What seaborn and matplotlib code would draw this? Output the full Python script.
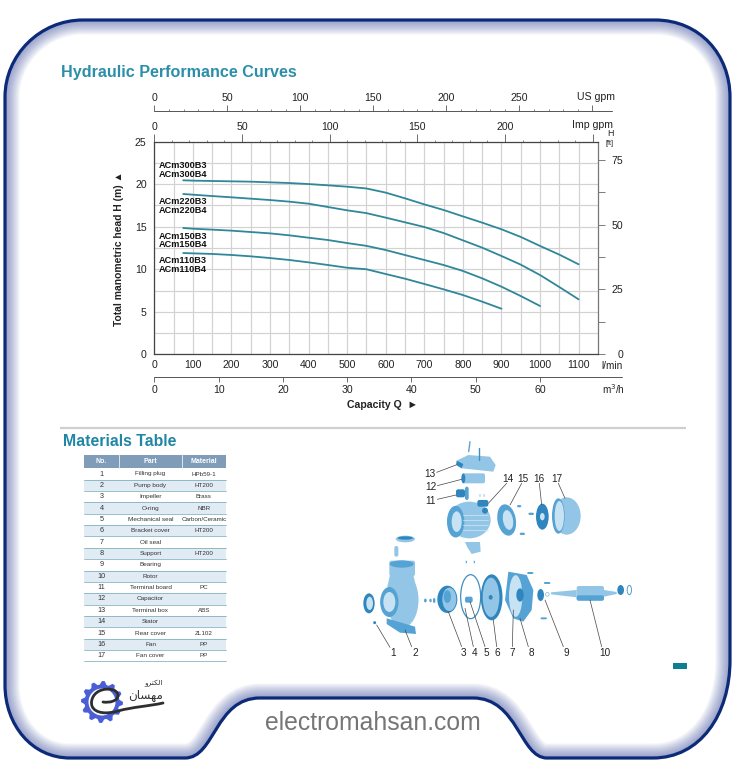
import numpy as np
import pandas as pd
import matplotlib
matplotlib.use("Agg")
import matplotlib.pyplot as plt
import seaborn as sns
from matplotlib.path import Path
from matplotlib.patches import PathPatch, Rectangle, Ellipse, Polygon, Circle, FancyBboxPatch

# ---------- data ----------
Q_300 = [75, 100, 150, 200, 250, 300, 350, 400, 450, 500, 550, 600, 650, 700, 750, 800, 850, 900, 950, 1000, 1050, 1100]
H_300 = [20.46, 20.42, 20.38, 20.34, 20.30, 20.22, 20.14, 20.02, 19.87, 19.71, 19.50, 19.01, 18.34, 17.63, 16.97,
         16.22, 15.48, 14.70, 13.80, 12.74, 11.72, 10.58]
Q_220 = [75, 100, 150, 200, 250, 300, 350, 400, 450, 500, 550, 600, 650, 700, 750, 800, 850, 900, 950, 1000, 1050, 1100]
H_220 = [18.85, 18.77, 18.61, 18.46, 18.30, 18.14, 17.95, 17.71, 17.32, 16.93, 16.60, 16.07, 15.52, 14.97, 14.26,
         13.40, 12.54, 11.56, 10.54, 9.32, 7.91, 6.46]
Q_150 = [75, 100, 150, 200, 250, 300, 350, 400, 450, 500, 550, 600, 650, 700, 750, 800, 850, 900, 950, 1000]
H_150 = [14.85, 14.77, 14.66, 14.54, 14.38, 14.22, 13.99, 13.71, 13.44, 13.08, 12.75, 12.26, 11.67, 11.09, 10.50,
         9.80, 8.93, 7.95, 6.85, 5.68]
Q_110 = [75, 100, 150, 200, 250, 300, 350, 400, 450, 500, 550, 600, 650, 700, 750, 800, 850, 900]
H_110 = [11.91, 11.87, 11.80, 11.68, 11.52, 11.32, 11.09, 10.81, 10.50, 10.18, 10.00, 9.44, 8.89, 8.27, 7.64,
         6.97, 6.19, 5.36]
CURVE_LABELS = ["ACm300B3", "ACm300B4", "ACm220B3", "ACm220B4",
                "ACm150B3", "ACm150B4", "ACm110B3", "ACm110B4"]
CURVE_LABEL_H = [22.18, 21.17, 17.99, 16.93, 13.9, 12.87, 11.0, 10.03]

TABLE_NO = [str(i) for i in range(1, 18)]
TABLE_PART = ["Filling plug", "Pump body", "Impeller", "O-ring", "Mechanical seal",
              "Bracket cover", "Oil seal", "Support", "Bearing", "Rotor", "Terminal board",
              "Capacitor", "Terminal box", "Stator", "Rear cover", "Fan", "Fan cover"]
TABLE_MAT = ["HPb59-1", "HT200", "Brass", "NBR", "Carbon/Ceramic", "HT200", "", "HT200", "",
             "", "PC", "", "ABS", "", "ZL102", "PP", "PP"]

# ---------- theme ----------
sns.set_theme(style="white", rc={"axes.grid": False})
plt.rcParams["font.family"] = ["Liberation Sans", "DejaVu Sans"]
INK = "#222222"
W, H = 743, 775
fig = plt.figure(figsize=(W / 100, H / 100), dpi=100, facecolor="white")

# overlay in pixel coordinates
ov = fig.add_axes([0, 0, 1, 1], zorder=0)
ov.set_xlim(0, W)
ov.set_ylim(H, 0)
ov.axis("off")

# ---------- frame ----------
MV, LN, CV = Path.MOVETO, Path.LINETO, Path.CURVE4
verts = [(83, 20), (655, 20),
         (700, 20), (730, 55), (730, 97),
         (730, 660),
         (730, 715), (700, 758), (653, 758),
         (547, 758),
         (520, 758), (518, 698), (473, 698),
         (260, 698),
         (215, 698), (215, 758), (185, 758),
         (70, 758),
         (32, 758), (5, 725), (5, 685),
         (5, 97),
         (5, 55), (40, 20), (83, 20)]
codes = [MV, LN, CV, CV, CV, LN, CV, CV, CV, LN, CV, CV, CV, LN, CV, CV, CV, LN, CV, CV, CV, LN, CV, CV, CV]
frame = Path(verts, codes)
base = PathPatch(frame, fc="white", ec="none", transform=ov.transData)
ov.add_patch(base)
for lw in np.arange(3, 22, 1.5):
    p = PathPatch(frame, fc="none", ec="#2a3f98", lw=lw, alpha=0.045, transform=ov.transData)
    ov.add_patch(p)
    p.set_clip_path(base)
ov.add_patch(PathPatch(frame, fc="none", ec="#0c2a78", lw=2.3, transform=ov.transData))

# ---------- main axes ----------
L, R, T, B = 154.3, 598.3, 141.7, 354.3
ax = fig.add_axes([L / W, 1 - B / H, (R - L) / W, (B - T) / H], zorder=2, facecolor="none")
curves = pd.concat([
    pd.DataFrame({"Q": Q_300, "H": H_300, "model": "300"}),
    pd.DataFrame({"Q": Q_220, "H": H_220, "model": "220"}),
    pd.DataFrame({"Q": Q_150, "H": H_150, "model": "150"}),
    pd.DataFrame({"Q": Q_110, "H": H_110, "model": "110"}),
])
sns.lineplot(data=curves, x="Q", y="H", hue="model", estimator=None, errorbar=None,
             palette=["#2f8799"] * 4, lw=1.3, legend=False, ax=ax, zorder=3)
ax.set_xlim(0, 1151)
ax.set_ylim(0, 25)
ax.set_xlabel("")
ax.set_ylabel("")
ax.set_xticks(np.arange(0, 1101, 100))
ax.set_xticks(np.arange(50, 1101, 100), minor=True)
ax.set_yticks(np.arange(0, 26, 5))
ax.set_yticks(np.arange(2.5, 25, 5), minor=True)
ax.grid(True, which="both", color="#d2d2d2", lw=0.85, zorder=0)
ax.set_axisbelow(True)
ax.tick_params(axis="both", which="both", length=0, labelsize=7.6, labelcolor=INK)
ax.tick_params(axis="x", pad=4.2)
ax.tick_params(axis="y", pad=5.5)
for s, c in zip(["left", "bottom", "top", "right"], ["#444444", "#444444", "#444444", "#777777"]):
    ax.spines[s].set_visible(True)
    ax.spines[s].set_color(c)
    ax.spines[s].set_linewidth(0.9)
for name, h in zip(CURVE_LABELS, CURVE_LABEL_H):
    ax.text(12, h, name, fontsize=6.6, fontweight="bold", color="#111111", va="center", ha="left")


def flow_axis(loc, factor, major, minor, labels, maj_len, pad, where="top"):
    sec = ax.secondary_xaxis(loc, functions=(lambda q: q / factor, lambda v: v * factor))
    sec.set_xticks(major)
    sec.set_xticklabels(labels)
    if minor:
        sec.set_xticks(minor, minor=True)
    sec.tick_params(axis="x", which="major", length=maj_len, width=0.6, color="#555555",
                    labelsize=7.6, labelcolor=INK, pad=pad)
    sec.tick_params(axis="x", which="minor", length=1.6, width=0.5, color="#555555")
    sec.spines[where].set_visible(False)
    return sec


plot_h = B - T
us_y = 1 + (T - 110.7) / plot_h
m3_y = -(376.7 - B) / plot_h
flow_axis(us_y, 3.7854, list(range(0, 301, 50)), list(range(0, 301, 10)),
          ["0", "50", "100", "150", "200", "250", ""], 4.5, 1.0)
flow_axis("top", 4.546, list(range(0, 251, 50)), list(range(0, 251, 10)),
          ["0", "50", "100", "150", "200", ""], 5.5, 1.5)
m3 = flow_axis(m3_y, 1 / 0.06, list(range(0, 61, 10)), [],
               ["0", "10", "20", "30", "40", "50", "60"], 3.5, 2.5, where="bottom")

ft = ax.secondary_yaxis("right", functions=(lambda m: m * 3.2808, lambda f: f / 3.2808))
ft.set_yticks([0, 25, 50, 75])
ft.set_yticklabels(["0", "25", "50", "75"], ha="right")
ft.set_yticks([12.5, 37.5, 62.5], minor=True)
ft.tick_params(axis="y", which="major", length=4.8, width=0.6, color="#666666",
               labelsize=7.6, labelcolor=INK, pad=13)
ft.tick_params(axis="y", which="minor", length=4.8, width=0.6, color="#666666")
ft.spines["right"].set_visible(False)

# axis rules
ov.plot([L, 611.7], [110.7, 110.7], color="#555555", lw=0.7)
ov.plot([L, 621.7], [376.7, 376.7], color="#555555", lw=0.7)


def txt(x, y, s, **kw):
    kw.setdefault("color", INK)
    kw.setdefault("va", "center")
    kw.setdefault("ha", "left")
    kw.setdefault("fontsize", 7.6)
    return ov.text(x, y, s, **kw)


txt(61, 73, "Hydraulic Performance Curves", fontsize=11.6, fontweight="bold", color="#2b8fa8")
txt(63, 442, "Materials Table", fontsize=11.4, fontweight="bold", color="#1f86a5")
txt(577, 97, "US gpm")
txt(572, 125, "Imp gpm")
txt(610, 134, "H", ha="center", fontsize=6.4)
txt(610, 143.5, "[ft]", ha="center", fontsize=5.2)
txt(601, 366, "l/min", fontsize=7.2)
txt(602, 389, "m$^3$/h", fontsize=7.2, math_fontfamily="dejavusans")
txt(119.5, 249, "Total manometric head H (m) \u25b2", rotation=90, ha="center",
    fontsize=7.4, fontweight="bold")
txt(347, 405.5, "Capacity Q  \u25ba", fontsize=7.6, fontweight="bold")
ov.plot([60, 686], [428, 428], color="#cfcfcf", lw=1.6, solid_capstyle="butt")
ov.add_patch(Rectangle((673, 663), 14, 5.5, fc="#0e7f90", ec="none"))

# ---------- table ----------
tx0, tx1, tx2, tx3 = 84.3, 119, 182, 225.7
ov.add_patch(Rectangle((tx0, 455), tx3 - tx0, 12.7, fc="#7f9db8", ec="none"))
for x in (tx1, tx2):
    ov.plot([x, x], [455, 467.7], color="#dfe7ee", lw=0.7)
for x, s in zip([(tx0 + tx1) / 2, (tx1 + tx2) / 2, (tx2 + tx3) / 2], ["No.", "Part", "Material"]):
    txt(x, 461.3, s, ha="center", fontsize=5, fontweight="bold", color="white")
row_h = 11.36
for i, (n, part, mat) in enumerate(zip(TABLE_NO, TABLE_PART, TABLE_MAT)):
    yc = 474 + i * row_h
    if i % 2 == 1:
        ov.add_patch(Rectangle((tx0, yc - row_h / 2), tx3 - tx0, row_h, fc="#e1ebf3", ec="none"))
        ov.plot([tx0, tx3], [yc - row_h / 2, yc - row_h / 2], color="#6fa6b8", lw=0.5)
        ov.plot([tx0, tx3], [yc + row_h / 2, yc + row_h / 2], color="#6fa6b8", lw=0.5)
    txt((tx0 + tx1) / 2, yc, n, ha="center", fontsize=5.2, color="#333333")
    txt((tx1 + tx2) / 2, yc, part, ha="center", fontsize=4.6, color="#333333")
    txt((tx2 + tx3) / 2, yc, mat, ha="center", fontsize=4.5, color="#333333")
ov.plot([tx0, tx3], [474 + 16 * row_h + row_h / 2] * 2, color="#6fa6b8", lw=0.5)


# ---------- exploded view (sketch, coordinates in a 3x zoomed frame) ----------
def zx(x): return 350 + x / 3
def zy(y): return 440 + y / 3


LIGHT, MID, DARK, PALE = "#93c6e6", "#55a3d4", "#2f86bf", "#c7e2f3"


def E(x, y, w, h, c=MID, ang=0, **kw):
    ov.add_patch(Ellipse((zx(x), zy(y)), w / 3, h / 3, angle=ang, fc=c, ec=kw.pop("ec", "none"), **kw))


def RB(x0, y0, x1, y1, c=MID):
    ov.add_patch(FancyBboxPatch((zx(x0), zy(y0)), (x1 - x0) / 3, (y1 - y0) / 3,
                                boxstyle="round,pad=0,rounding_size=2", fc=c, ec="none"))


def P(points, c=MID):
    ov.add_patch(Polygon([(zx(x), zy(y)) for x, y in points], closed=True, fc=c, ec="none"))


# motor group
P([(320, 62), (355, 45), (420, 50), (437, 75), (430, 95), (335, 85)], LIGHT)
P([(320, 62), (340, 72), (335, 85), (318, 75)], DARK)
RB(338, 100, 405, 130, LIGHT); E(340, 115, 12, 30, DARK)
RB(318, 148, 345, 172, DARK)
E(358, 240, 128, 110, LIGHT); E(317, 245, 52, 95, MID); E(320, 245, 30, 62, PALE)
RB(345, 140, 356, 180, MID); RB(382, 180, 415, 200, DARK); E(405, 212, 18, 18, DARK)
for yy in (225, 240, 255, 270):
    ov.plot([zx(340), zx(415)], [zy(yy), zy(yy)], color="#c7e2f3", lw=0.6)
P([(345, 306), (390, 306), (392, 335), (365, 342), (352, 322)], LIGHT)
E(470, 240, 55, 95, MID, ang=-10); E(474, 240, 30, 60, PALE, ang=-10)
E(577, 230, 38, 78, DARK); E(577, 230, 14, 22, PALE)
RB(500, 195, 515, 202, MID); RB(508, 278, 526, 285, MID); RB(534, 218, 553, 225, MID)
E(650, 228, 84, 112, LIGHT); E(625, 228, 38, 106, MID); E(628, 228, 28, 90, PALE)
RB(388, 163, 392, 170, DARK); RB(400, 163, 404, 170, DARK)
RB(347, 360, 351, 372, MID); RB(371, 360, 375, 372, MID)
ov.plot([zx(356), zx(360)], [zy(35), zy(5)], color="#6a9fc2", lw=1)
ov.plot([zx(387), zx(387)], [zy(60), zy(25)], color="#3f8fc2", lw=1)
# pump group
E(166, 297, 58, 20, LIGHT); E(166, 294, 46, 10, DARK)
RB(133, 318, 145, 350, LIGHT)
RB(118, 362, 195, 408, LIGHT); E(155, 372, 72, 22, MID)
E(158, 480, 95, 165, LIGHT)
P([(120, 405), (190, 405), (205, 470), (160, 480), (112, 440)], LIGHT)
E(118, 486, 55, 90, MID); E(118, 486, 36, 60, PALE)
P([(110, 535), (195, 560), (198, 582), (150, 578), (110, 552)], MID)
E(57, 490, 34, 60, DARK); E(59, 490, 20, 40, PALE)
E(74, 548, 9, 9, DARK)
RB(222, 475, 230, 488, MID); RB(238, 475, 245, 488, MID); RB(249, 473, 256, 490, MID)
E(292, 478, 60, 82, DARK); E(298, 478, 42, 70, LIGHT); E(292, 470, 22, 38, MID)
E(362, 470, 60, 132, "none", ec="#3f8fc2", lw=0.9)
RB(345, 470, 368, 488, MID)
E(425, 472, 65, 138, DARK); E(423, 472, 50, 118, LIGHT); E(422, 472, 12, 14, DARK)
P([(475, 395), (530, 405), (550, 450), (545, 510), (520, 545), (490, 535), (465, 480)], MID)
E(497, 468, 40, 125, PALE); E(510, 465, 22, 40, DARK)
RB(530, 396, 552, 402, MID); RB(580, 426, 603, 432, MID); RB(570, 532, 592, 538, MID)
E(572, 465, 20, 36, DARK); E(592, 463, 11, 11, "none", ec="#8fc0e0", lw=0.6)
P([(603, 457), (680, 450), (680, 472), (603, 463)], LIGHT)
RB(680, 438, 762, 482, LIGHT); RB(680, 466, 762, 482, MID)
P([(762, 450), (800, 456), (800, 462), (762, 470)], LIGHT)
E(812, 450, 20, 30, DARK)
E(838, 450, 13, 28, "none", ec="#4f9fd0", lw=0.7)

NUM = ["1", "2", "3", "4", "5", "6", "7", "8", "9", "10", "11", "12", "13", "14", "15", "16", "17"]
NUM_XY = [(130, 640), (195, 640), (340, 640), (375, 640), (410, 640), (443, 640), (487, 640),
          (543, 640), (648, 640), (765, 640), (243, 183), (243, 142), (241, 102), (473, 117),
          (520, 117), (568, 117), (620, 117)]
LEAD = [((120, 622), (80, 555)), ((185, 620), (165, 570)), ((335, 620), (295, 515)),
        ((370, 620), (345, 505)), ((405, 620), (360, 485)), ((440, 620), (430, 540)),
        ((487, 620), (490, 510)), ((535, 620), (510, 535)), ((640, 620), (585, 480)),
        ((755, 620), (720, 480)), ((262, 178), (318, 165)), ((262, 137), (335, 118)),
        ((260, 97), (318, 75)), ((470, 130), (415, 190)), ((515, 130), (480, 195)),
        ((568, 130), (575, 195)), ((625, 130), (645, 175))]
for s, (x, y), (a, b) in zip(NUM, NUM_XY, LEAD):
    txt(zx(x), zy(y), s, ha="center", fontsize=7.2, color="#222222")
    ov.plot([zx(a[0]), zx(b[0])], [zy(a[1]), zy(b[1])], color="#444444", lw=0.5)

# ---------- logo + footer ----------
gx, gy = 102, 702
angles = np.linspace(0, 2 * np.pi, 49)[:-1]
radii = np.where(np.arange(48) % 4 < 2, 21, 17.5)
ov.add_patch(Polygon(np.column_stack([gx + radii * np.cos(angles), gy + radii * np.sin(angles)]),
                     closed=True, fc="#4a5fd6", ec="none"))
ov.add_patch(Circle((gx, gy), 13.5, fc="white", ec="none"))
swoosh = Path([(103, 702), (110, 703), (118, 701), (118, 695),
               (117, 689), (108, 688), (102, 690),
               (94, 692), (90, 700), (92, 706),
               (95, 714), (108, 714), (118, 711),
               (132, 707), (150, 706), (163, 703)],
              [MV] + [CV] * 15)
ov.add_patch(PathPatch(swoosh, fc="none", ec="#2e2e2e", lw=2.0, capstyle="round", transform=ov.transData))
txt(154, 683, "\uFEED\uFEAE\uFE98\uFEDC\uFEDF\uFE8D", family="DejaVu Sans", fontsize=5.4, ha="center", color="#333333")
txt(146, 695, "\uFEE5\uFE8E\uFEB4\uFEEC\uFEE3", family="DejaVu Sans", fontsize=8.6, ha="center", color="#333333")

txt(373, 723, "electromahsan.com", ha="center", fontsize=17.8, color="#757575")

fig.savefig("out.png", dpi=100, facecolor="white")
